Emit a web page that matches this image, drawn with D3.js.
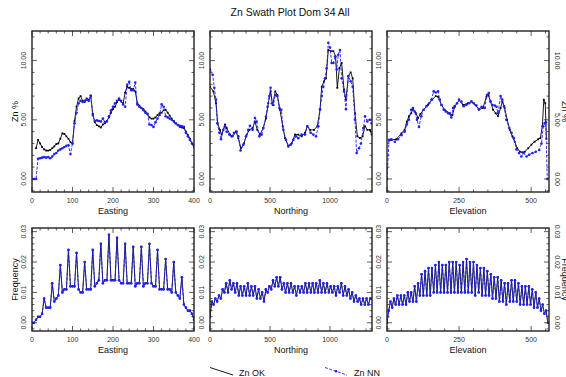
<!DOCTYPE html>
<html><head><meta charset="utf-8">
<script src="https://cdn.jsdelivr.net/npm/d3@7"></script>
<style>body{margin:0;background:#fff}svg{display:block;font-family:"Liberation Sans",Arial,sans-serif}</style>
</head><body><svg id="c" width="566" height="377"></svg>
<script>
// ---------------- DATA ----------------
const title = "Zn Swath Plot Dom 34 All";
const seriesNames = ["Zn OK", "Zn NN"];

// Easting swath
const eastX = [0,5,10,15,20,25,30,35,40,45,50,55,60,65,70,75,80,85,90,95,100,105,110,115,120,125,130,135,140,145,150,155,160,165,170,175,180,185,190,195,200,205,210,215,220,225,230,235,240,245,250,255,260,265,270,275,280,285,290,295,300,305,310,315,320,325,330,335,340,345,350,355,360,365,370,375,380,385,390,395,400];
const eastNN = [0,0,0,1.7,1.75,1.8,1.85,1.8,1.85,1.75,1.9,2.1,2.2,2.4,2.5,2.6,2.7,2.8,2.85,2.1,3.0,4.7,5.6,6.4,6.6,6.5,6.6,6.7,6.6,7.05,5.4,4.9,4.95,4.9,4.85,5.1,4.8,4.85,5.3,5.8,6.1,6.4,6.6,6.8,6.6,6.3,6.1,7.95,8.2,7.5,7.5,8.15,6.3,6.1,6.0,5.8,5.6,5.5,4.6,4.55,4.4,4.8,5.1,5.4,6.3,6.1,5.3,5.2,5.1,5.0,4.85,4.7,4.55,4.5,4.45,4.4,3.9,3.6,3.3,3.0,2.85];
const eastOKX = [10,15,20,25,30,35,40,45,50,55,60,65,70,75,80,85,90,95,100,105,110,115,120,125,130,135,140,145,150,155,160,165,170,175,180,185,190,195,200,205,210,215,220,225,230,235,240,245,250,255,260,265,270,275,280,285,290,295,300,305,310,315,320,325,330,335,340,345,350,355,360,365,370,375,380,385,390,395,400];
const eastOK = [2.6,3.3,3.0,2.7,2.5,2.4,2.4,2.45,2.6,2.75,2.95,3.0,3.4,3.85,3.8,3.6,3.4,3.1,3.0,4.9,6.1,6.8,7.0,6.6,6.5,6.8,6.7,6.97,5.5,4.8,4.55,4.45,4.35,4.6,4.7,4.9,5.2,5.6,5.9,6.1,6.5,6.7,6.55,6.4,7.3,7.8,7.7,7.6,7.6,7.4,6.4,6.2,6.0,5.9,5.7,5.5,5.2,5.1,5.1,5.2,5.4,5.55,5.6,5.8,5.85,5.6,5.35,5.1,4.9,4.7,4.55,4.4,4.35,4.3,4.0,3.7,3.4,3.0,2.7];
const eastFreq = [0.000,0.000,0.001,0.002,0.002,0.003,0.008,0.005,0.005,0.005,0.013,0.007,0.008,0.009,0.019,0.010,0.011,0.011,0.024,0.012,0.012,0.012,0.023,0.011,0.010,0.010,0.020,0.011,0.011,0.011,0.024,0.012,0.013,0.014,0.026,0.013,0.014,0.014,0.029,0.014,0.014,0.014,0.028,0.014,0.013,0.013,0.026,0.013,0.013,0.013,0.025,0.012,0.013,0.013,0.025,0.012,0.013,0.013,0.026,0.013,0.012,0.012,0.024,0.011,0.011,0.011,0.021,0.011,0.011,0.010,0.020,0.010,0.009,0.008,0.015,0.006,0.005,0.004,0.004,0.003,0.001];

// Northing swath
const northNNX = [0,22,36,50,61,78,92,111,125,139,161,180,200,222,236,255,278,300,319,333,355,375,389,411,430,444,466,480,494,505,516,528,544,561,578,594,611,633,653,672,694,717,736,764,792,811,839,861,883,903,917,931,944,958,972,986,1000,1014,1028,1042,1056,1069,1083,1097,1117,1133,1153,1172,1189,1208,1222,1242,1258,1278,1292,1311,1333,1347];
const northNN = [9.25,8.8,7.7,6.7,4.7,3.9,3.35,4.15,4.45,4.0,3.75,3.6,3.9,4.0,3.6,2.4,2.9,3.6,4.15,4.5,4.15,5.15,4.85,3.6,3.75,4.3,5.25,6.1,7.0,7.7,6.4,6.25,7.1,7.0,6.0,5.85,4.15,3.3,2.75,2.9,3.3,3.6,3.45,3.75,3.75,4.45,3.9,3.75,3.6,4.45,5.9,7.0,7.8,8.5,9.35,11.5,11.1,9.8,9.8,10.35,9.25,10.5,10.9,8.5,7.4,5.9,8.7,8.25,7.8,5.0,2.2,2.6,3.0,4.3,5.3,4.85,5.0,4.7];
const northOKX = [0,28,50,64,83,97,125,139,167,189,217,236,258,283,306,328,355,375,394,417,444,466,486,505,522,544,561,583,606,625,653,681,708,736,764,792,811,833,867,894,917,931,950,967,986,1006,1028,1047,1061,1078,1097,1117,1133,1153,1172,1189,1208,1228,1250,1272,1292,1311,1333,1347];
const northOK = [7.8,7.4,6.4,4.7,4.15,3.75,4.6,4.3,3.75,3.6,4.0,3.45,2.6,3.0,3.75,4.15,4.3,4.85,4.15,3.75,4.3,5.1,6.4,7.4,6.25,7.4,7.1,5.85,4.45,3.45,2.8,3.0,3.75,3.75,3.6,3.9,4.45,4.15,4.15,4.45,5.85,7.8,8.25,8.5,10.9,10.8,10.8,10.35,7.7,9.35,9.8,7.55,6.7,8.7,9.0,8.5,5.55,3.6,3.45,3.6,4.45,4.15,4.15,3.75];
const northFreqX = [0,15,30,45,60,75,90,105,120,135,150,165,180,195,210,225,240,255,270,285,300,315,330,345,360,375,390,405,420,435,450,465,480,495,510,525,540,555,570,585,600,615,630,645,660,675,690,705,720,735,750,765,780,795,810,825,840,855,870,885,900,915,930,945,960,975,990,1005,1020,1035,1050,1065,1080,1095,1110,1125,1140,1155,1170,1185,1200,1215,1230,1245,1260,1275,1290,1305,1320,1335,1350];
const northFreq = [0.002,0.007,0.006,0.008,0.007,0.009,0.008,0.011,0.010,0.013,0.010,0.014,0.011,0.013,0.010,0.013,0.009,0.012,0.009,0.012,0.009,0.013,0.009,0.012,0.009,0.012,0.008,0.011,0.008,0.010,0.007,0.011,0.010,0.012,0.011,0.014,0.012,0.015,0.012,0.015,0.011,0.013,0.010,0.013,0.010,0.013,0.010,0.012,0.009,0.012,0.010,0.012,0.010,0.013,0.010,0.013,0.010,0.013,0.010,0.013,0.010,0.014,0.010,0.013,0.010,0.013,0.010,0.012,0.010,0.012,0.009,0.012,0.010,0.013,0.009,0.012,0.009,0.011,0.008,0.010,0.007,0.009,0.007,0.008,0.006,0.008,0.006,0.008,0.006,0.008,0.008];

// Elevation swath
const elevNNX = [0,7,15,27,38,50,61,69,76,84,90,96,104,111,119,127,137,146,154,162,169,177,183,189,197,204,212,218,223,229,235,243,250,258,266,275,285,293,301,310,319,328,339,347,353,359,366,374,380,385,394,400,406,414,424,432,440,449,458,466,474,484,493,505,516,528,536,542,547,551,556];
const elevNN = [0,3.3,3.35,3.15,3.35,3.7,4.0,4.6,5.0,5.85,6.0,5.7,5.0,4.4,5.3,5.85,6.15,6.4,6.7,7.4,7.3,7.4,6.7,6.25,5.85,5.7,5.55,5.5,5.2,6.0,6.15,6.4,6.7,6.55,6.15,6.25,6.4,6.55,6.4,6.2,5.9,6.1,6.0,7.1,7.25,6.55,6.25,6.2,6.1,5.55,7.0,6.7,6.15,5.0,4.3,3.9,3.45,2.5,2.2,1.9,2.2,1.9,2.05,2.2,2.3,2.45,3.0,4.45,4.7,4.8,0];
const elevOKX = [7,15,32,50,61,69,76,84,90,100,108,116,127,142,157,169,177,189,200,218,227,235,250,264,281,293,307,319,333,345,351,359,368,377,385,394,400,408,417,426,435,443,452,461,470,478,490,501,512,524,532,539,544,549,553];
const elevOK = [3.25,3.3,3.35,3.85,4.15,4.85,5.3,5.55,5.9,5.55,5.15,5.5,5.85,6.25,6.7,7.0,6.95,6.25,5.85,5.55,5.4,6.1,6.65,6.25,6.4,6.55,6.25,5.85,6.0,6.95,7.1,6.55,5.85,5.55,5.3,6.0,6.55,6.0,5.0,4.15,3.6,3.15,2.6,2.3,2.25,2.3,2.6,2.9,3.15,3.35,3.45,4.45,6.7,6.4,3.4];
const elevFreqX = [0,6,12,18,24,30,36,42,48,54,60,66,72,78,84,90,96,102,108,114,120,126,132,138,144,150,156,162,168,174,180,186,192,198,204,210,216,222,228,234,240,246,252,258,264,270,276,282,288,294,300,306,312,318,324,330,336,342,348,354,360,366,372,378,384,390,396,402,408,414,420,426,432,438,444,450,456,462,468,474,480,486,492,498,504,510,516,522,528,534,540,546,552,558];
const elevFreq = [0.000,0.004,0.007,0.005,0.008,0.006,0.009,0.006,0.009,0.006,0.009,0.006,0.010,0.007,0.010,0.007,0.012,0.007,0.013,0.009,0.016,0.009,0.017,0.009,0.018,0.009,0.018,0.010,0.019,0.010,0.020,0.010,0.019,0.010,0.019,0.010,0.020,0.010,0.020,0.010,0.020,0.010,0.019,0.010,0.020,0.010,0.021,0.010,0.020,0.010,0.020,0.009,0.019,0.010,0.018,0.009,0.018,0.009,0.017,0.009,0.016,0.008,0.015,0.008,0.015,0.007,0.014,0.007,0.013,0.006,0.013,0.007,0.014,0.007,0.014,0.007,0.013,0.006,0.012,0.006,0.012,0.006,0.012,0.006,0.011,0.005,0.010,0.005,0.008,0.004,0.006,0.003,0.004,0.000];

// Axis / tick definitions
const xLabels = ["Easting", "Northing", "Elevation"];
const xDomains = [[0, 400], [0, 1350], [0, 562]];
const xMajorTicks = [[0, 100, 200, 300, 400], [0, 500, 1000], [0, 250, 500]];
const xMinorStep = [20, 100, 50];
const gradeTicks = [0, 5, 10];
const gradeDomain = [-1.1, 12.5];
const freqTicks = [0, 0.01, 0.02, 0.03];
const freqDomain = [-0.0027, 0.0312];
const yLabels = ["Zn %", "Frequency"];

// ---------------- LAYOUT ----------------
const svg = d3.select('#c');
svg.append('rect').attr('width', 566).attr('height', 377).attr('fill', '#fff');
const panelLeft = [32, 210, 387], panelW = 162;
const rows = [{top: 31, bottom: 192}, {top: 228, bottom: 331}];
const BLUE = '#1f1fff';
const defs = svg.append('defs');

svg.append('text').attr('x', 290).attr('y', 16).attr('text-anchor', 'middle')
  .attr('font-size', 10.5).attr('fill', '#111').text(title);

const topData = [
  {ok: [eastOKX, eastOK], nn: [eastX, eastNN]},
  {ok: [northOKX, northOK], nn: [northNNX, northNN]},
  {ok: [elevOKX, elevOK], nn: [elevNNX, elevNN]}
];
const botData = [
  [eastX, eastFreq], [northFreqX, northFreq], [elevFreqX, elevFreq]
];

function drawPanel(ci, ri) {
  const L = panelLeft[ci], R = L + panelW;
  const T = rows[ri].top, B = rows[ri].bottom;
  const x = d3.scaleLinear().domain(xDomains[ci]).range([L, R]);
  const yDom = ri === 0 ? gradeDomain : freqDomain;
  const y = d3.scaleLinear().domain(yDom).range([B, T]);
  const g = svg.append('g');
  const cid = 'clip' + ci + '_' + ri;
  defs.append('clipPath').attr('id', cid).append('rect')
    .attr('x', L).attr('y', T).attr('width', R - L).attr('height', B - T);

  // ticks
  const tk = g.append('g').attr('stroke', '#333').attr('stroke-width', 0.8);
  const xd = xDomains[ci];
  const xMinor = d3.range(xd[0], xd[1] + 1e-9, xMinorStep[ci]);
  xMinor.forEach(v => {
    const isMaj = xMajorTicks[ci].indexOf(v) >= 0;
    const len = isMaj ? 5 : 2.5;
    const px = x(v);
    tk.append('line').attr('x1', px).attr('x2', px).attr('y1', B).attr('y2', B - len);
    tk.append('line').attr('x1', px).attr('x2', px).attr('y1', T).attr('y2', T + len);
  });
  const yMaj = ri === 0 ? gradeTicks : freqTicks;
  const yStep = ri === 0 ? 1 : 0.002;
  const yMinor = d3.range(Math.ceil(yDom[0] / yStep) * yStep, yDom[1], yStep);
  yMinor.forEach(v => {
    const isMaj = yMaj.some(m => Math.abs(m - v) < yStep / 10);
    const len = isMaj ? 5 : 2.5;
    const py = y(v);
    tk.append('line').attr('x1', L).attr('x2', L + len).attr('y1', py).attr('y2', py);
    tk.append('line').attr('x1', R).attr('x2', R - len).attr('y1', py).attr('y2', py);
  });

  // data
  const dg = g.append('g').attr('clip-path', `url(#${cid})`);
  let okXs, okYs, nnXs, nnYs;
  if (ri === 0) { [okXs, okYs] = topData[ci].ok; [nnXs, nnYs] = topData[ci].nn; }
  else { [okXs, okYs] = botData[ci]; [nnXs, nnYs] = botData[ci]; }
  const okPts = okXs.map((v, i) => [v, okYs[i]]);
  const nnPts = nnXs.map((v, i) => [v, nnYs[i]]);
  const line = d3.line().x(d => x(d[0])).y(d => y(d[1]));
  dg.append('path').attr('d', line(okPts)).attr('fill', 'none')
    .attr('stroke', '#000').attr('stroke-width', 0.9);
  dg.selectAll(null).data(okPts).enter().append('rect')
    .attr('x', d => x(d[0]) - 0.9).attr('y', d => y(d[1]) - 0.9)
    .attr('width', 1.8).attr('height', 1.8).attr('fill', '#000');
  dg.append('path').attr('d', line(nnPts)).attr('fill', 'none')
    .attr('stroke', BLUE).attr('stroke-width', 0.9).attr('stroke-dasharray', '3,1.5');
  dg.selectAll(null).data(nnPts).enter().append('circle')
    .attr('cx', d => x(d[0])).attr('cy', d => y(d[1])).attr('r', 1.3).attr('fill', BLUE);

  // frame
  g.append('rect').attr('x', L).attr('y', T).attr('width', R - L).attr('height', B - T)
    .attr('fill', 'none').attr('stroke', '#222').attr('stroke-width', 1.4);

  // x tick labels
  const fmtY = ri === 0 ? d3.format('.2f') : d3.format('.2f');
  xMajorTicks[ci].forEach(v => {
    g.append('text').attr('x', x(v)).attr('y', B + 9).attr('dy', '0.35em')
      .attr('text-anchor', 'middle').attr('font-size', 7).attr('fill', '#333').text(v);
  });
  g.append('text').attr('x', (L + R) / 2).attr('y', B + 19).attr('dy', '0.35em')
    .attr('text-anchor', 'middle').attr('font-size', 9).attr('fill', '#111').text(xLabels[ci]);

  // y tick labels (left side of every panel)
  yMaj.forEach(v => {
    g.append('text').attr('transform', `translate(${L - 8},${y(v)}) rotate(-90)`)
      .attr('dy', '0.35em').attr('text-anchor', 'middle').attr('font-size', 7)
      .attr('fill', '#333').text(fmtY(v));
    if (ci === 2) {
      g.append('text').attr('transform', `translate(${R + 8},${y(v)}) rotate(90)`)
        .attr('dy', '0.35em').attr('text-anchor', 'middle').attr('font-size', 7)
        .attr('fill', '#333').text(fmtY(v));
    }
  });
  if (ci === 0) {
    g.append('text').attr('transform', `translate(15,${(T + B) / 2}) rotate(-90)`)
      .attr('dy', '0.35em').attr('text-anchor', 'middle').attr('font-size', 9)
      .attr('fill', '#111').text(yLabels[ri]);
  }
  if (ci === 2) {
    g.append('text').attr('transform', `translate(${R + 16},${(T + B) / 2}) rotate(90)`)
      .attr('dy', '0.35em').attr('text-anchor', 'middle').attr('font-size', 9)
      .attr('fill', '#111').text(yLabels[ri]);
  }
}

for (let ri = 0; ri < 2; ri++) for (let ci = 0; ci < 3; ci++) drawPanel(ci, ri);

// legend
const lg = svg.append('g');
lg.append('line').attr('x1', 210).attr('y1', 367.5).attr('x2', 233).attr('y2', 375)
  .attr('stroke', '#000').attr('stroke-width', 0.9);
lg.append('text').attr('x', 239).attr('y', 373).attr('dy', '0.35em')
  .attr('font-size', 9).attr('fill', '#111').text(seriesNames[0]);
lg.append('line').attr('x1', 325).attr('y1', 367.5).attr('x2', 347).attr('y2', 375)
  .attr('stroke', BLUE).attr('stroke-width', 0.9).attr('stroke-dasharray', '3,1.5');
lg.append('circle').attr('cx', 336).attr('cy', 371.3).attr('r', 1.3).attr('fill', BLUE);
lg.append('text').attr('x', 354).attr('y', 373).attr('dy', '0.35em')
  .attr('font-size', 9).attr('fill', '#111').text(seriesNames[1]);
</script></body></html>
